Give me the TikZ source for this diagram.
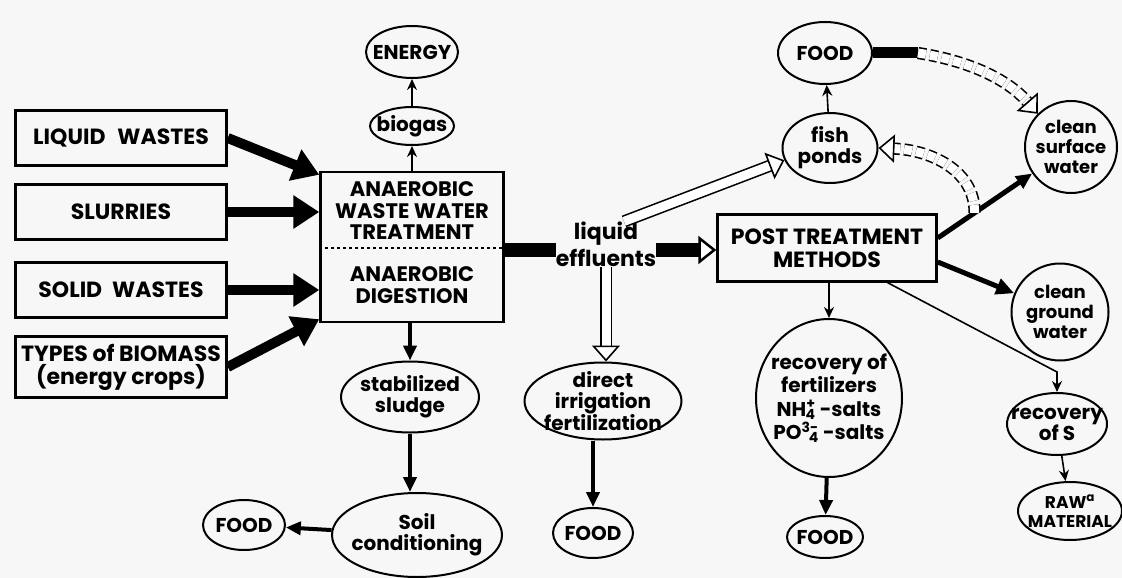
\documentclass[tikz,border=0pt]{standalone}
\usepackage{fontspec}
\setmainfont{Poppins}
\usetikzlibrary{shapes.geometric,arrows.meta}

\tikzset{
  lbl/.style={font=\bfseries\fontsize{20}{21}\selectfont, align=center, inner sep=0pt},
  srcbox/.style={lbl, font=\bfseries\fontsize{22}{23}\selectfont, draw, line width=2.5pt, minimum width=211pt, minimum height=55pt},
  oval/.style={lbl, ellipse, draw, line width=2pt, inner xsep=-25pt, inner ysep=-10pt},
  rnd/.style={lbl, circle, draw, line width=2pt, inner sep=-12pt, font=\bfseries\fontsize{18}{20}\selectfont},
  fat/.style={line width=10pt, -{Triangle[length=26pt,width=32pt]}},
  med/.style={line width=4pt, -{Triangle[length=15pt,width=13pt]}},
  slim/.style={line width=1.6pt, -{Stealth[length=11pt,width=10pt]}},
  band/.style={line width=14pt},
  hollow/.style={double, line width=1.6pt, double distance=9pt, -{Triangle[open,fill=white,length=16pt,width=28pt,line width=1.6pt]}},
  dashes/.style={dash pattern=on 8pt off 4pt}
}

\begin{document}
\begin{tikzpicture}[x=1pt,y=-1pt]
\fill[black!3] (0,0) rectangle (1122,578);
\useasboundingbox (0,0) rectangle (1122,578);

% inputs
\node[srcbox] (liquid) at (121,138) {LIQUID\hspace{12pt}WASTES};
\node[srcbox] (slurry) at (121,212) {SLURRIES};
\node[srcbox] (solid) at (121,290) {SOLID\hspace{10pt}WASTES};
\node[srcbox, minimum height=61pt] (biomass) at (121,367) {TYPES of BIOMASS\\(energy crops)};

% digester
\node[srcbox, minimum width=183pt, minimum height=150pt] (anaerobic) at (412,247) {};
\node[lbl, font=\bfseries\fontsize{21}{21.5}\selectfont] (wastewater) at (412,211) {ANAEROBIC\\WASTE WATER\\TREATMENT};
\node[lbl, font=\bfseries\fontsize{21}{21.5}\selectfont] (digestion) at (412,285) {ANAEROBIC\\DIGESTION};
\draw[dashed, line width=1.5pt] (anaerobic.west |- 0,248) -- (anaerobic.east |- 0,248);

\node[oval, minimum width=84pt, minimum height=38pt] (biogas) at (412,126) {biogas};
\node[oval, minimum width=92pt, minimum height=52pt] (energy) at (412,52) {ENERGY};
\node[oval, minimum width=138pt, minimum height=71pt] (sludge) at (410,397) {stabilized\\sludge};
\node[oval, minimum width=170pt, minimum height=84pt] (soil) at (417,535) {Soil\\conditioning};
\node[oval, minimum width=82pt, minimum height=50pt] (foodsoil) at (244,525) {FOOD};

% effluents
\node[lbl, font=\bfseries\fontsize{22}{27}\selectfont] (effluents) at (606,244) {liquid\\effluents};
\node[oval, minimum width=157pt, minimum height=77pt] (irrigation) at (603,401) {direct\\irrigation\\fertilization};
\node[oval, minimum width=80pt, minimum height=50pt] (foodirr) at (593,533) {FOOD};

% post treatment
\node[srcbox, minimum width=219pt, minimum height=67pt] (post) at (827,248) {POST TREATMENT\\METHODS};
\node[oval, minimum width=95pt, minimum height=70pt] (fish) at (830,148) {fish\\ponds};
\node[oval, minimum width=94pt, minimum height=62pt] (foodfish) at (825,53) {FOOD};
\node[rnd, minimum size=92pt] (surface) at (1071,147) {clean\\surface\\water};
\node[rnd, minimum size=97pt] (ground) at (1060,312) {clean\\ground\\water};
\node[oval, minimum width=146pt, minimum height=158pt, font=\bfseries\fontsize{20}{23.5}\selectfont] (fertilizer) at (829,398)
  {recovery of\\fertilizers\\NH\textsuperscript{+}\llap{\textsubscript{4}}\ -salts\\PO\textsuperscript{3-}\llap{\textsubscript{4}}\ -salts};
\node[oval, minimum width=76pt, minimum height=42pt] (foodfert) at (825,537) {FOOD};
\node[oval, minimum width=100pt, minimum height=62pt] (sulphur) at (1057,424) {recovery\\of S};
\node[oval, minimum width=104pt, minimum height=58pt, font=\bfseries\fontsize{17}{19}\selectfont] (raw) at (1070,511) {RAW\textsuperscript{a}\\MATERIAL};

% arrows
\draw[fat] (liquid.east) -- ([yshift=-4pt]anaerobic.north west);
\draw[fat] (slurry.east) -- (slurry.east -| anaerobic.west);
\draw[fat] (solid.east) -- (solid.east -| anaerobic.west);
\draw[fat] (biomass.east) -- ([yshift=4pt]anaerobic.south west);

\draw[slim] (anaerobic.north -| biogas) -- (biogas.south);
\draw[slim] (biogas.north) -- (energy.south);
\draw[med] (anaerobic.south -| sludge) -- (sludge.north);
\draw[med] (sludge.south) -- (sludge.south |- soil.north);
\draw[med] (soil) -- (foodsoil);

\draw[band] (anaerobic.east |- 0,250) -- (effluents.west |- 0,250);
\draw[band, -{Triangle[open,fill=white,length=18pt,width=28pt,line width=2.5pt]}] (effluents.east |- 0,250) -- (post.west |- 0,250);
\draw[hollow] ([xshift=18pt]effluents.north) -- (fish.195);
\draw[hollow] (effluents.south) -- (effluents.south |- irrigation.north);
\draw[med] (irrigation.south -| foodirr) -- (foodirr.north);

\draw[slim] (fish) -- (foodfish);
\draw[line width=5pt, -{Triangle[length=16pt,width=14pt]}] ([yshift=10pt]post.east) -- coordinate[pos=0.39] (fork) (surface);
\draw[line width=5pt, -{Triangle[length=18pt,width=16pt]}] ([yshift=-14pt]post.east) -- (ground);
\draw[slim] (post.south -| fertilizer) -- (fertilizer.north);
\draw[med] (fertilizer) -- (foodfert);
\draw[slim] ([xshift=-50pt]post.south east) -- (sulphur.north |- 0,372) -- (sulphur.north);
\draw[slim] (sulphur) -- (raw);

\coordinate (blob) at (918,53);
\draw[line width=11pt] (foodfish.east) -- (blob);
\draw[hollow, dashes] (blob) .. controls (975,62) and (1010,82) .. (surface.135);
\draw[hollow, dashes] (fork) .. controls (975,170) and (930,150) .. (fish.east);

\end{tikzpicture}
\end{document}
